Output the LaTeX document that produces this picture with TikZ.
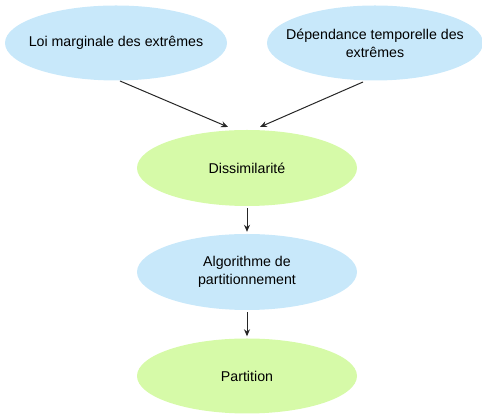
\documentclass[tikz,border=0pt]{standalone}
\usepackage{fontspec}
\setmainfont{Liberation Sans}
\usetikzlibrary{shapes.geometric,arrows.meta}
\definecolor{bluefill}{HTML}{C8E8FA}
\definecolor{greenfill}{HTML}{D6FAA8}
\begin{document}
\begin{tikzpicture}[x=1pt,y=1pt,
  % negative horizontal inner sep keeps the ellipse size fixed by minimum width
  blob/.style={ellipse,minimum width=222pt,minimum height=75pt,inner xsep=-30pt,inner ysep=0pt,
    align=center,font=\fontsize{14.2}{18}\selectfont},
  bluenode/.style={blob,fill=bluefill},
  greennode/.style={blob,fill=greenfill},
  link/.style={-{Stealth[length=7pt,width=6pt]},line width=1pt,black!85}]
\useasboundingbox (0,0) rectangle (482,414);
\node[bluenode] (loi) at (116,371) {Loi marginale des extrêmes};
\node[bluenode,minimum width=216pt] (dep) at (375,371) {Dépendance temporelle des\\extrêmes};
\node[greennode,minimum width=220pt,minimum height=76pt] (dis) at (247,246) {Dissimilarité};
\node[bluenode,minimum width=220pt,minimum height=76pt] (alg) at (247,142) {Algorithme de\\partitionnement};
\node[greennode,minimum width=220pt,minimum height=75pt] (part) at (247,38) {Partition};
\coordinate (s1) at (120,333);
\coordinate (e1) at (228,287);
\coordinate (s2) at (363,332);
\coordinate (e2) at (260,287);
\draw[link] (s1) -- (e1);
\draw[link] (s2) -- (e2);
\draw[link] (dis.south) ++(0,-2) -- ([yshift=2pt]alg.north);
\draw[link] (alg.south) ++(0,-2) -- ([yshift=2pt]part.north);
\end{tikzpicture}
\end{document}
